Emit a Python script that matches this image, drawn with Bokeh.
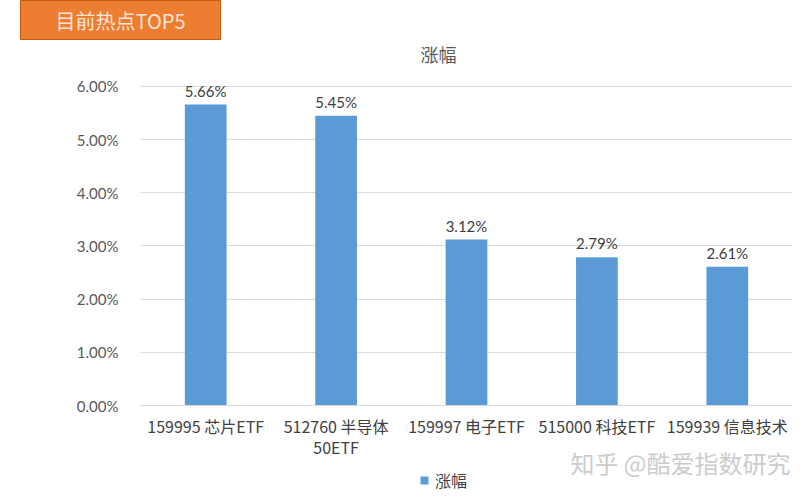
from bokeh.plotting import figure
from bokeh.models import (ColumnDataSource, FactorRange, Range1d, NumeralTickFormatter,
                          Label, Legend, LegendItem, FixedTicker)
from bokeh.core.properties import value
from bokeh.embed import file_html
from bokeh.resources import INLINE

categories = ["159995 芯片ETF", "512760 半导体\n50ETF", "159997 电子ETF", "515000 科技ETF", "159939 信息技术"]
gains = [0.0566, 0.0545, 0.0312, 0.0279, 0.0261]
gain_labels = ["5.66%", "5.45%", "3.12%", "2.79%", "2.61%"]
y_ticks = [0.0, 0.01, 0.02, 0.03, 0.04, 0.05, 0.06]
series_name = "涨幅"
banner_text = "目前热点TOP5"
watermark_text = "知乎 @酷爱指数研究"

src = ColumnDataSource(dict(cat=categories, v=gains, lab=gain_labels))

CJK = "Noto Sans CJK SC"
NUM = "Lato"

# frame spans from below the banner down to the bottom edge; y=0 sits ~93px above the bottom
p = figure(width=804, height=498, output_backend="svg", toolbar_location=None,
           x_range=FactorRange(*categories, range_padding=0),
           y_range=Range1d(-0.01749, 0.06846),
           min_border_left=140, min_border_right=12, min_border_top=36, min_border_bottom=0)
p.outline_line_color = None
p.background_fill_color = "white"
p.border_fill_color = "white"

r = p.vbar(x="cat", top="v", width=0.32, source=src, fill_color="#5B9BD5", line_color=None)
p.text(x="cat", y="v", text="lab", source=src, text_align="center", text_baseline="bottom",
       y_offset=-5, text_font=value(NUM), text_font_size="15px", text_color="#404040")

p.yaxis.ticker = FixedTicker(ticks=y_ticks)
p.yaxis.formatter = NumeralTickFormatter(format="0.00%")
p.yaxis.axis_line_color = None
p.yaxis.major_tick_line_color = None
p.yaxis.minor_tick_line_color = None
p.yaxis.major_label_standoff = 16
p.yaxis.major_label_text_font = NUM
p.yaxis.major_label_text_font_size = "15px"
p.yaxis.major_label_text_color = "#595959"

p.xaxis.fixed_location = 0
p.xaxis.axis_line_color = "#D9D9D9"
p.xaxis.major_tick_line_color = None
p.xaxis.minor_tick_line_color = None
p.xaxis.major_label_standoff = 2
p.xaxis.major_label_text_font = CJK
p.xaxis.major_label_text_font_size = "16px"
p.xaxis.major_label_text_line_height = 0.9
p.xaxis.major_label_text_color = "#404040"

p.xgrid.grid_line_color = None
p.ygrid.grid_line_color = "#D9D9D9"
p.ygrid.ticker = FixedTicker(ticks=y_ticks)

# orange banner = plot title; padding = (left, right, top, bottom)
p.title.text = banner_text
p.title.align = "left"
p.title.offset = -120
p.title.vertical_align = "top"
p.title.text_font = CJK
p.title.text_font_size = "20px"
p.title.text_font_style = "normal"
p.title.text_color = "#FCE4D6"
p.title.background_fill_color = "#ED7D31"
p.title.border_line_color = "#C55A11"
p.title.padding = (35, 35, 5, 5)
p.title.standoff = 0

# chart title (inside the frame area, above the gridlines)
p.add_layout(Label(x=298, y=445, x_units="screen", y_units="screen", text=series_name,
                   text_align="center", text_baseline="middle", text_font=CJK,
                   text_font_size="18px", text_color="#595959"))
# watermark
p.add_layout(Label(x=650, y=36, x_units="screen", y_units="screen", text=watermark_text,
                   text_align="right", text_baseline="middle", text_font=CJK,
                   text_font_size="24px", text_color="#CCCCCC"))

legend = Legend(items=[LegendItem(label=series_name, renderers=[r])], location=(279, 6),
                orientation="horizontal", padding=0, margin=0, spacing=0,
                glyph_width=10, glyph_height=10, label_standoff=6,
                label_text_font=CJK, label_text_font_size="16px", label_text_color="#404040",
                background_fill_alpha=0, border_line_color=None)
p.add_layout(legend, "center")

open("out.html", "w").write(file_html(p, INLINE))
